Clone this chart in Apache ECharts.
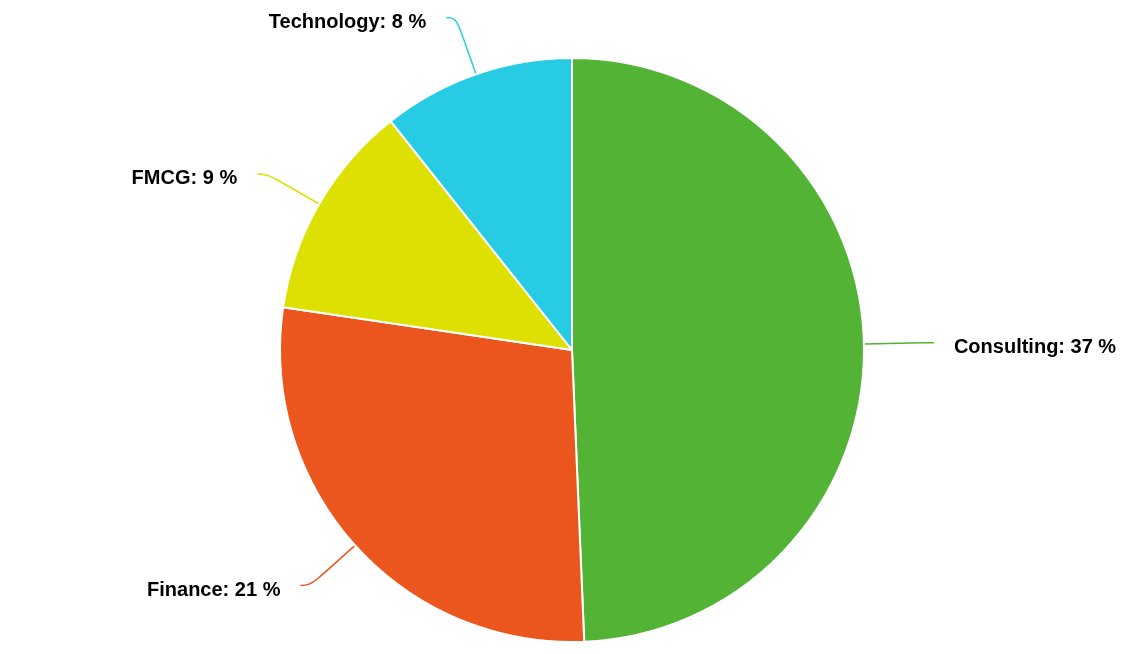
<!DOCTYPE html>
<html>
<head>
<meta charset="utf-8">
<script src="https://cdn.jsdelivr.net/npm/echarts@6/dist/echarts.min.js"></script>
<style>
html,body{margin:0;padding:0;background:#fff;}
#chart{width:1148px;height:654px;}
</style>
</head>
<body>
<div id="chart"></div>
<script>
const categories = ['Consulting', 'Finance', 'FMCG', 'Technology'];
const values = [37, 21, 9, 8];
const colors = ['#52b335', '#ea561e', '#dde000', '#27cbe3'];

const chart = echarts.init(document.getElementById('chart'), null, {renderer: 'canvas'});
chart.setOption({
  backgroundColor: '#ffffff',
  animation: false,
  color: colors,
  series: [{
    type: 'pie',
    center: [572, 350],
    radius: [0, 292],
    startAngle: 90,
    clockwise: true,
    avoidLabelOverlap: false,
    data: categories.map((c, i) => ({name: c, value: values[i]})),
    itemStyle: {borderColor: '#ffffff', borderWidth: 2},
    label: {
      show: true,
      position: 'outside',
      formatter: '{t|{b}: {c} %}',
      color: '#000',
      fontFamily: 'Liberation Sans, Arial, sans-serif',
      fontWeight: 'bold',
      fontSize: 20,
      rich: {
        t: {
          color: '#000',
          fontFamily: 'Liberation Sans, Arial, sans-serif',
          fontWeight: 'bold',
          fontSize: 20,
          padding: [9, 0, 0, 0]
        }
      },
      distanceToLabelLine: 20
    },
    labelLine: {
      show: true,
      length: 60,
      length2: 10,
      smooth: 0.5,
      lineStyle: {width: 1.5}
    },
    emphasis: {disabled: true}
  }]
});
</script>
</body>
</html>
